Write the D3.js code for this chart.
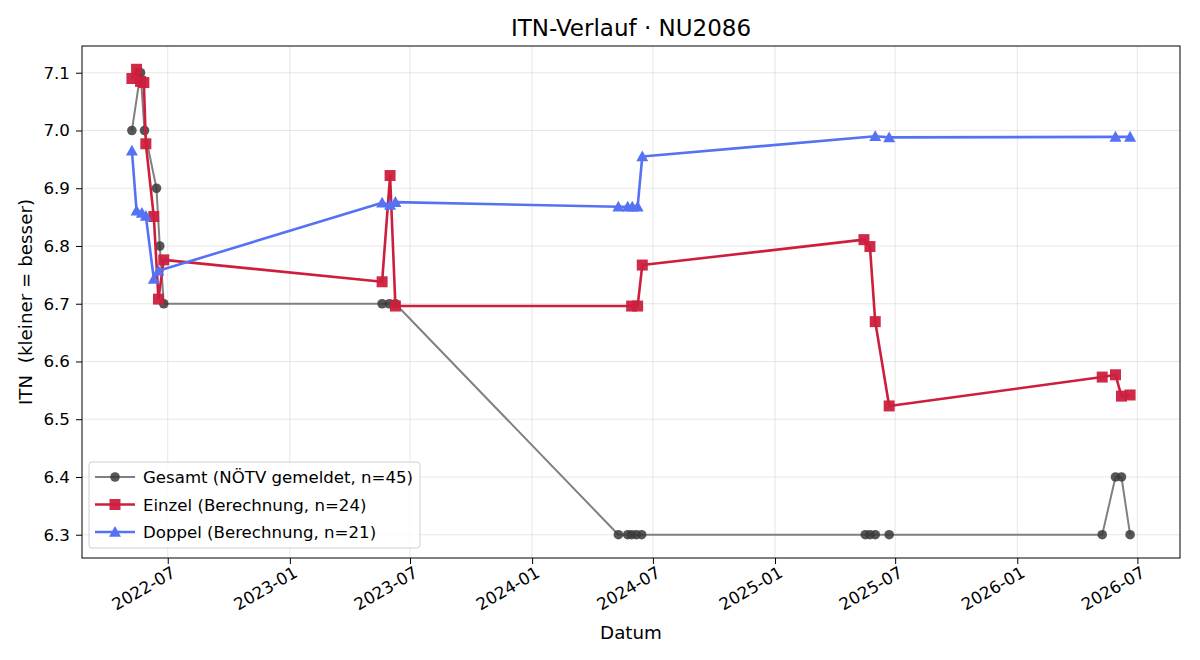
<!DOCTYPE html>
<html>
<head>
<meta charset="utf-8">
<script src="https://cdn.jsdelivr.net/npm/d3@7"></script>
<style>
  body { margin: 0; background: #fff; }
  svg { font-family: "DejaVu Sans", sans-serif; }
  .tick text { font-size: 16.7px; fill: #000; font-family: "DejaVu Sans", sans-serif; }
  .grid line { stroke: #b0b0b0; stroke-opacity: 0.3; }
</style>
</head>
<body>
<div id="chart"></div>
<script>
// data
var gesamtDates = ["2022-05-08","2022-05-21","2022-05-27","2022-06-14","2022-06-19","2022-06-25",
  "2023-05-20","2023-05-31","2023-06-09",
  "2024-05-10","2024-05-24","2024-05-30","2024-06-06","2024-06-14",
  "2025-05-17","2025-05-24","2025-06-01","2025-06-22",
  "2026-05-09","2026-05-29","2026-06-07","2026-06-20"];
var gesamtITN = [7.0, 7.1, 7.0, 6.9, 6.8, 6.7,
  6.7, 6.7, 6.7,
  6.3, 6.3, 6.3, 6.3, 6.3,
  6.3, 6.3, 6.3, 6.3,
  6.3, 6.4, 6.4, 6.3];

var einzelDates = ["2022-05-08","2022-05-15","2022-05-21","2022-05-26","2022-05-29","2022-06-10","2022-06-17","2022-06-25",
  "2023-05-20","2023-06-01","2023-06-09",
  "2024-05-30","2024-06-08","2024-06-15",
  "2025-05-15","2025-05-24","2025-06-01","2025-06-22",
  "2026-05-09","2026-05-29","2026-06-07","2026-06-20"];
var einzelITN = [7.090, 7.106, 7.085, 7.083, 6.977, 6.851, 6.708, 6.776,
  6.738, 6.922, 6.696,
  6.696, 6.696, 6.767,
  6.811, 6.799, 6.669, 6.523,
  6.573, 6.577, 6.540, 6.542];

var doppelDates = ["2022-05-08","2022-05-15","2022-05-23","2022-05-29","2022-06-10","2022-06-17",
  "2023-05-20","2023-06-01","2023-06-09",
  "2024-05-10","2024-05-24","2024-05-31","2024-06-08","2024-06-15",
  "2025-06-01","2025-06-22",
  "2026-05-29","2026-06-20"];
var doppelITN = [6.965, 6.861, 6.857, 6.852, 6.743, 6.757,
  6.875, 6.871, 6.876,
  6.868, 6.868, 6.868, 6.868, 6.955,
  6.990, 6.988,
  6.989, 6.989];

var yTicks = [6.3, 6.4, 6.5, 6.6, 6.7, 6.8, 6.9, 7.0, 7.1];

//set svg and chart dimensions
var svgWidth = 1200;
var svgHeight = 660;
var margin = { top: 46, right: 20, bottom: 102, left: 82 };
var width = svgWidth - margin.left - margin.right;
var height = svgHeight - margin.top - margin.bottom;

var parseDate = d3.utcParse("%Y-%m-%d");

function toPoints(dates, vals) {
  return dates.map(function(d, i) { return { date: parseDate(d), itn: vals[i] }; });
}

var series = [
  { name: "Gesamt (NÖTV gemeldet, n=45)", data: toPoints(gesamtDates, gesamtITN),
    line: "#808080", lineWidth: 2, marker: "circle", mfill: "#3a3a3a", mopacity: 0.85, size: 4.8 },
  { name: "Einzel (Berechnung, n=24)", data: toPoints(einzelDates, einzelITN),
    line: "#cc1f3d", lineWidth: 2.6, marker: "square", mfill: "#cc1f3d", mopacity: 0.95, size: 5.5 },
  { name: "Doppel (Berechnung, n=21)", data: toPoints(doppelDates, doppelITN),
    line: "#5672f4", lineWidth: 2.6, marker: "triangle", mfill: "#5672f4", mopacity: 1, size: 6 }
];

var svg = d3.select("#chart")
  .append("svg")
  .attr("width", svgWidth)
  .attr("height", svgHeight);

var chartGroup = svg.append("g")
  .attr("transform", `translate(${margin.left}, ${margin.top})`);

// scales, 5% padding like matplotlib
var allPts = series[0].data.concat(series[1].data, series[2].data);
var xExt = d3.extent(allPts, d => d.date);
var xPad = (xExt[1] - xExt[0]) * 0.05;
var xScale = d3.scaleUtc()
  .domain([new Date(+xExt[0] - xPad), new Date(+xExt[1] + xPad)])
  .range([0, width]);

var yExt = d3.extent(allPts, d => d.itn);
var yPad = (yExt[1] - yExt[0]) * 0.05;
var yScale = d3.scaleLinear()
  .domain([yExt[0] - yPad, yExt[1] + yPad])
  .range([height, 0]);

var xTicks = d3.utcMonth.every(6).range(xScale.domain()[0], xScale.domain()[1]);

// grid
chartGroup.append("g").attr("class", "grid")
  .selectAll("line").data(xTicks).enter().append("line")
  .attr("x1", d => xScale(d)).attr("x2", d => xScale(d))
  .attr("y1", 0).attr("y2", height);
chartGroup.append("g").attr("class", "grid")
  .selectAll("line").data(yTicks).enter().append("line")
  .attr("x1", 0).attr("x2", width)
  .attr("y1", d => yScale(d)).attr("y2", d => yScale(d));

// series
var lineGen = d3.line().x(d => xScale(d.date)).y(d => yScale(d.itn));

function markerPath(type, s) {
  if (type === "square") return `M${-s},${-s}H${s}V${s}H${-s}Z`;
  if (type === "triangle") return `M0,${-s}L${s},${s * 0.8}L${-s},${s * 0.8}Z`;
  return d3.symbol().type(d3.symbolCircle).size(Math.PI * s * s)();
}

series.forEach(function(s) {
  chartGroup.append("path")
    .datum(s.data)
    .attr("fill", "none")
    .attr("stroke", s.line)
    .attr("stroke-width", s.lineWidth)
    .attr("stroke-linejoin", "round")
    .attr("d", lineGen);

  chartGroup.append("g").selectAll("path")
    .data(s.data)
    .enter()
    .append("path")
    .attr("transform", d => `translate(${xScale(d.date)},${yScale(d.itn)})`)
    .attr("d", markerPath(s.marker, s.size))
    .attr("fill", s.mfill)
    .attr("fill-opacity", s.mopacity);
});

// axes
var bottomAxis = d3.axisBottom(xScale)
  .tickValues(xTicks)
  .tickFormat(d3.utcFormat("%Y-%m"))
  .tickSize(6).tickPadding(6);
var leftAxis = d3.axisLeft(yScale)
  .tickValues(yTicks)
  .tickFormat(d3.format(".1f"))
  .tickSize(6).tickPadding(6);

var xAxis = chartGroup.append("g")
  .attr("transform", `translate(0, ${height})`)
  .call(bottomAxis);
xAxis.select(".domain").remove();
// rotated labels: top-right corner sits under the tick
xAxis.selectAll(".tick text")
  .style("text-anchor", "end")
  .attr("x", 0)
  .attr("y", 0)
  .attr("dy", "0.76em")
  .attr("transform", "translate(2, 7) rotate(-30)");

var yAxis = chartGroup.append("g").call(leftAxis);
yAxis.select(".domain").remove();

chartGroup.append("rect")
  .attr("width", width).attr("height", height)
  .attr("fill", "none").attr("stroke", "#000").attr("stroke-width", 1);

// title and labels
svg.append("text")
  .attr("x", margin.left + width / 2).attr("y", 36)
  .attr("text-anchor", "middle")
  .style("font-size", "23px")
  .text("ITN-Verlauf · NU2086");

svg.append("text")
  .attr("x", margin.left + width / 2).attr("y", 639)
  .attr("text-anchor", "middle")
  .style("font-size", "18.3px")
  .text("Datum");

svg.append("text")
  .attr("transform", `translate(32, ${margin.top + height / 2}) rotate(-90)`)
  .attr("text-anchor", "middle")
  .style("font-size", "18.3px")
  .style("white-space", "pre")
  .text("ITN  (kleiner = besser)");

// legend
var legend = svg.append("g").attr("transform", "translate(89, 462)");
legend.append("rect")
  .attr("width", 331).attr("height", 86).attr("rx", 3)
  .attr("fill", "#fff").attr("fill-opacity", 0.8)
  .attr("stroke", "#d0d0d0");

series.forEach(function(s, i) {
  var ly = 15 + i * 27.5;
  legend.append("line")
    .attr("x1", 6).attr("x2", 46).attr("y1", ly).attr("y2", ly)
    .attr("stroke", s.line).attr("stroke-width", s.lineWidth);
  legend.append("path")
    .attr("transform", `translate(26,${ly})`)
    .attr("d", markerPath(s.marker, s.size))
    .attr("fill", s.mfill).attr("fill-opacity", s.mopacity);
  legend.append("text")
    .attr("x", 54).attr("y", ly + 6)
    .style("font-size", "16.6px")
    .text(s.name);
});
</script>
</body>
</html>
